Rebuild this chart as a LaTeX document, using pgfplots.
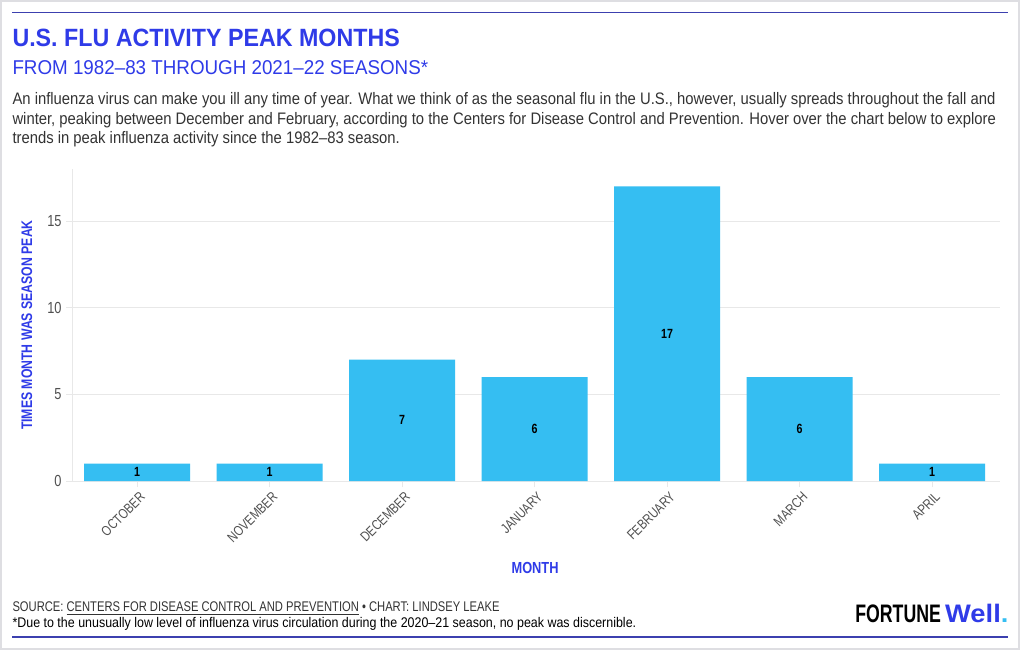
\documentclass[border=0pt]{standalone}
\usepackage{fontspec}
\setmainfont{Liberation Sans}[FakeStretch=0.8]
\newfontfamily\bodyfont{Liberation Sans}[FakeStretch=0.89,Ligatures=TeX]
\newfontfamily\titlefont{Liberation Sans}[FakeStretch=0.93,Ligatures=TeX]
\newfontfamily\subfont{Liberation Sans}[FakeStretch=0.94,Ligatures=TeX]
\newfontfamily\logofont{Liberation Sans}[FakeStretch=0.7]
\newfontfamily\wellfont{Liberation Sans}[FakeStretch=1.08]
\usepackage{pgfplots}
\pgfplotsset{compat=1.18}
\definecolor{titleblue}{RGB}{47,59,232}
\definecolor{lineblue}{RGB}{60,64,175}
\definecolor{barblue}{RGB}{53,190,242}
\definecolor{textgray}{RGB}{51,51,51}
\definecolor{tickgray}{RGB}{80,80,80}
\definecolor{gridgray}{RGB}{232,232,232}
\definecolor{framegray}{RGB}{222,222,226}
\begin{document}
\begin{tikzpicture}[x=0.75pt,y=0.75pt]
% frame
\fill[white] (0,0) rectangle (1020,650);
\draw[framegray, line width=1.5pt] (0.75,0.75) rectangle (1019.25,649.25);
\draw[lineblue, line width=0.9pt] (12,638) -- (1008,638);
\draw[lineblue, line width=0.9pt] (12,13) -- (1008,13);
% titles
\node[anchor=base west, inner sep=0, text=titleblue, font=\titlefont\fontsize{18.75pt}{22pt}\selectfont\bfseries] at (12,604) {U.S. FLU ACTIVITY PEAK MONTHS};
\node[anchor=base west, inner sep=0, text=titleblue, font=\subfont\fontsize{15pt}{18pt}\selectfont] at (12,576) {FROM 1982–83 THROUGH 2021–22 SEASONS*};
\node[anchor=base west, inner sep=0, text=textgray, font=\bodyfont\fontsize{12.5pt}{15pt}\selectfont] at (12,546) {An influenza virus can make you ill any time of year. What we think of as the seasonal flu in the U.S., however, usually spreads throughout the fall and};
\node[anchor=base west, inner sep=0, text=textgray, font=\bodyfont\fontsize{12.5pt}{15pt}\selectfont] at (12,526) {winter, peaking between December and February, according to the Centers for Disease Control and Prevention. Hover over the chart below to explore};
\node[anchor=base west, inner sep=0, text=textgray, font=\bodyfont\fontsize{12.5pt}{15pt}\selectfont] at (12,507) {trends in peak influenza activity since the 1982–83 season.};
% footer
\node[anchor=base west, inner sep=0, text=textgray, font=\fontsize{10.5pt}{12pt}\selectfont] at (12,38) {SOURCE: \underline{CENTERS FOR DISEASE CONTROL AND PREVENTION} \textbullet\ CHART: LINDSEY LEAKE};
\node[anchor=base west, inner sep=0, text=black, font=\bodyfont\fontsize{10.5pt}{12pt}\selectfont] at (12,22) {*Due to the unusually low level of influenza virus circulation during the 2020–21 season, no peak was discernible.};
% logo
\node[anchor=base east, inner sep=0, font=\fontsize{19pt}{20pt}\selectfont] at (1009,27) {{\logofont\bfseries FORTUNE}\,{\wellfont\bfseries\color{titleblue}Well}{\wellfont\bfseries\color{barblue}.}};
% chart
\begin{axis}[
  at={(54pt,126.75pt)}, anchor=south west,
  scale only axis, width=696pt, height=234pt,
  xmin=-0.49, xmax=6.51, ymin=0, ymax=18,
  axis x line=bottom, axis y line=left,
  axis line style={gridgray, line width=0.75pt, -},
  xtick={0,1,2,3,4,5,6},
  xticklabels={OCTOBER,NOVEMBER,DECEMBER,JANUARY,FEBRUARY,MARCH,APRIL},
  ytick={0,5,10,15},
  ymajorgrids, grid style={gridgray, line width=0.75pt},
  tick align=outside, major tick length=4.5pt,
  tick style={gridgray, line width=0.75pt},
  xticklabel style={rotate=45, anchor=north east, text=tickgray, font=\fontsize{10.5pt}{12pt}\selectfont, inner sep=1pt, yshift=-2pt},
  yticklabel style={text=tickgray, font=\fontsize{12pt}{14pt}\selectfont},
  /pgf/number format/assume math mode=true,
  xlabel={MONTH},
  xlabel style={at={(axis description cs:0.499,-0.279)}, anchor=center, text=titleblue, font=\fontsize{12pt}{14pt}\selectfont\bfseries},
  ylabel={TIMES MONTH WAS SEASON PEAK},
  ylabel style={at={(axis description cs:-0.049,0.5)}, anchor=center, text=titleblue, font=\fontsize{11.5pt}{14pt}\selectfont\bfseries},
  clip=false,
]
\addplot[ybar, bar width=0.8, fill=barblue, draw=none] coordinates {
  (0,1) (1,1) (2,7) (3,6) (4,17) (5,6) (6,1)
};
\addplot[draw=none, mark=none, point meta=explicit symbolic,
  nodes near coords, nodes near coords style={anchor=center, text=black, font=\fontsize{10pt}{11pt}\selectfont\bfseries}]
  coordinates {
  (0,0.5)[1] (1,0.5)[1] (2,3.5)[7] (3,3)[6] (4,8.5)[17] (5,3)[6] (6,0.5)[1]
};
\end{axis}
\end{tikzpicture}
\end{document}
